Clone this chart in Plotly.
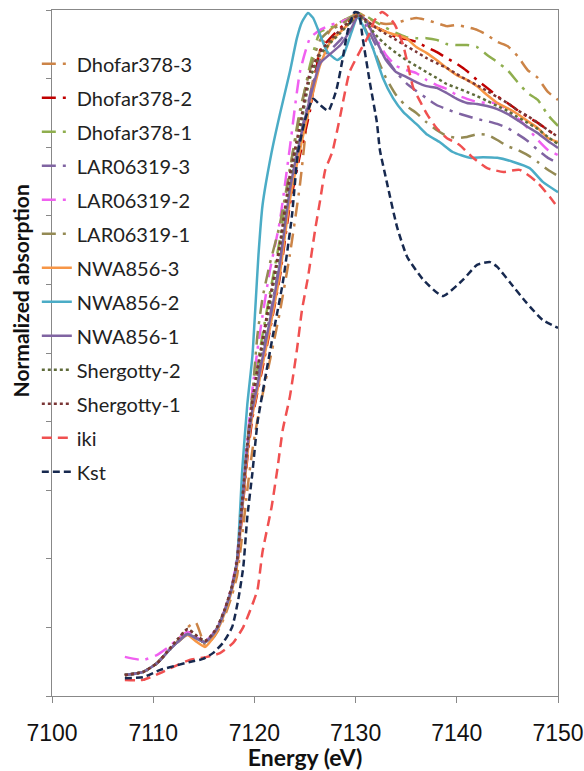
import plotly.graph_objects as go

# ---------------- data (energy in eV, normalized absorption) ----------------
E_BUNDLE = [7107.2, 7109.0, 7110.4, 7111.4, 7112.4, 7113.4, 7114.2, 7115.1, 7115.8, 7116.4,
            7117.1, 7117.8, 7118.3, 7118.8, 7119.3, 7119.8, 7120.3, 7120.8, 7121.5, 7122.5,
            7123.5, 7124.5, 7125.5, 7126.5, 7127.5, 7128.5, 7129.5, 7130.3, 7131.0, 7132.0,
            7133.0, 7134.0, 7135.0, 7136.0, 7137.0, 7138.0, 7139.0, 7140.0, 7141.0, 7142.0,
            7143.0, 7144.0, 7145.0, 7146.0, 7147.0, 7148.0, 7149.0, 7150.0]

PRE_COMMON = [0.061, 0.070, 0.096, 0.128, 0.157, 0.181, 0.169, 0.157, 0.175, 0.201, 0.251, 0.318]

dhofar378_3 = [0.061, 0.070, 0.096, 0.128, 0.160, 0.200, 0.215, 0.150, 0.165, 0.190, 0.235, 0.295,
               0.353, 0.469, 0.601, 0.717, 0.805, 0.878, 0.974, 1.117, 1.286, 1.490, 1.752, 1.883,
               1.942, 1.965, 1.980, 1.991, 1.980, 1.965, 1.959, 1.962, 1.971, 1.977, 1.971, 1.962,
               1.953, 1.956, 1.950, 1.942, 1.927, 1.907, 1.895, 1.866, 1.825, 1.802, 1.761, 1.738]
dhofar378_2 = PRE_COMMON + [
               0.382, 0.536, 0.694, 0.810, 0.886, 0.956, 1.061, 1.219, 1.431, 1.577, 1.708, 1.883,
               1.918, 1.948, 1.971, 1.985, 1.971, 1.950, 1.936, 1.921, 1.915, 1.907, 1.892, 1.878,
               1.860, 1.843, 1.822, 1.796, 1.773, 1.749, 1.729, 1.708, 1.688, 1.671, 1.650, 1.630]
dhofar378_1 = PRE_COMMON + [
               0.397, 0.571, 0.732, 0.863, 0.965, 1.052, 1.169, 1.329, 1.534, 1.694, 1.840, 1.936,
               1.948, 1.965, 1.980, 1.988, 1.983, 1.965, 1.948, 1.933, 1.921, 1.918, 1.918, 1.913,
               1.901, 1.898, 1.898, 1.892, 1.869, 1.848, 1.825, 1.790, 1.758, 1.738, 1.694, 1.662]
lar06319_3 = PRE_COMMON + [
               0.397, 0.563, 0.729, 0.848, 0.921, 1.003, 1.102, 1.265, 1.481, 1.627, 1.752, 1.854,
               1.883, 1.913, 1.950, 1.985, 1.956, 1.898, 1.860, 1.819, 1.787, 1.764, 1.743, 1.723,
               1.711, 1.700, 1.691, 1.682, 1.676, 1.668, 1.656, 1.638, 1.618, 1.592, 1.569, 1.554]
lar06319_2 = [0.114, 0.105, 0.120, 0.140, 0.165, 0.187, 0.172, 0.160, 0.178, 0.205, 0.255, 0.325,
              0.411, 0.586, 0.746, 0.892, 1.009, 1.108, 1.236, 1.382, 1.598, 1.819, 1.918, 1.942,
              1.956, 1.965, 1.977, 1.985, 1.965, 1.918, 1.869, 1.837, 1.825, 1.816, 1.796, 1.781,
              1.770, 1.752, 1.741, 1.732, 1.729, 1.729, 1.708, 1.685, 1.656, 1.621, 1.592, 1.577]
lar06319_1 = PRE_COMMON + [
               0.397, 0.577, 0.741, 0.878, 1.052, 1.160, 1.257, 1.373, 1.534, 1.708, 1.825, 1.913,
               1.942, 1.956, 1.977, 1.985, 1.942, 1.869, 1.802, 1.752, 1.720, 1.700, 1.673, 1.650,
               1.633, 1.627, 1.630, 1.638, 1.636, 1.621, 1.603, 1.592, 1.577, 1.557, 1.534, 1.516]
nwa856_3 = [0.061, 0.070, 0.096, 0.128, 0.157, 0.178, 0.160, 0.143, 0.165, 0.195, 0.245, 0.310,
            0.382, 0.542, 0.703, 0.819, 0.892, 0.965, 1.067, 1.227, 1.446, 1.592, 1.723, 1.840,
            1.907, 1.936, 1.965, 1.985, 1.971, 1.950, 1.936, 1.927, 1.918, 1.892, 1.875, 1.854,
            1.831, 1.810, 1.796, 1.778, 1.752, 1.729, 1.714, 1.697, 1.676, 1.656, 1.627, 1.615]
nwa856_1 = PRE_COMMON + [
            0.397, 0.557, 0.723, 0.834, 0.907, 0.985, 1.090, 1.257, 1.475, 1.621, 1.743, 1.845,
            1.872, 1.898, 1.942, 1.985, 1.971, 1.913, 1.854, 1.819, 1.805, 1.790, 1.778, 1.773,
            1.758, 1.741, 1.729, 1.726, 1.720, 1.711, 1.697, 1.679, 1.659, 1.641, 1.618, 1.598]
PRE_SHERGOTTY = [0.061, 0.070, 0.096, 0.130, 0.165, 0.195, 0.178, 0.160, 0.178, 0.205, 0.255, 0.322]
shergotty_2 = PRE_SHERGOTTY + [
            0.402, 0.571, 0.732, 0.857, 0.945, 1.023, 1.140, 1.300, 1.504, 1.650, 1.802, 1.869,
            1.904, 1.933, 1.965, 1.985, 1.965, 1.927, 1.898, 1.875, 1.854, 1.837, 1.819, 1.802,
            1.784, 1.773, 1.761, 1.749, 1.735, 1.720, 1.706, 1.688, 1.671, 1.653, 1.630, 1.609]
shergotty_1 = PRE_SHERGOTTY + [
            0.397, 0.571, 0.732, 0.863, 0.956, 1.038, 1.155, 1.315, 1.519, 1.665, 1.819, 1.878,
            1.913, 1.942, 1.971, 1.985, 1.971, 1.948, 1.930, 1.913, 1.895, 1.878, 1.860, 1.845,
            1.831, 1.813, 1.796, 1.781, 1.764, 1.746, 1.729, 1.708, 1.691, 1.671, 1.650, 1.630]

E_NWA856_2 = [7107.2, 7109.0, 7110.4, 7111.4, 7112.4, 7113.4, 7114.2, 7115.1, 7115.8, 7116.4,
              7117.1, 7117.8, 7118.3, 7118.8, 7119.3, 7119.8, 7120.1, 7120.4, 7120.8, 7121.7,
              7122.5, 7123.5, 7124.2, 7124.7, 7125.3, 7125.8, 7126.5, 7127.2, 7128.2, 7128.8,
              7129.6, 7130.2, 7130.7, 7131.7, 7132.7, 7133.7, 7134.7, 7136.1, 7137.1, 7138.3,
              7139.6, 7141.3, 7142.6, 7144.0, 7145.6, 7147.2, 7148.5, 7150.0]
nwa856_2 = PRE_COMMON + [
            0.400, 0.660, 0.850, 0.990, 1.135, 1.285, 1.430, 1.585, 1.694, 1.819, 1.918, 1.965,
            1.991, 1.977, 1.927, 1.878, 1.854, 1.869, 1.936, 1.980, 1.956, 1.889, 1.802, 1.743,
            1.703, 1.665, 1.636, 1.615, 1.586, 1.569, 1.571, 1.569, 1.557, 1.539, 1.499, 1.469]

E_IKI = [7107.2, 7109.0, 7110.7, 7112.0, 7113.6, 7115.3, 7116.6, 7117.9, 7118.9, 7119.6,
         7120.3, 7120.8, 7121.7, 7122.3, 7122.8, 7123.5, 7124.2, 7124.7, 7125.3, 7126.0,
         7126.5, 7127.0, 7127.7, 7128.5, 7129.4, 7130.4, 7131.2, 7131.9, 7132.6, 7133.3,
         7133.9, 7134.7, 7135.7, 7136.4, 7137.1, 7138.0, 7139.0, 7140.3, 7141.6, 7143.0,
         7144.6, 7146.2, 7147.9, 7149.2, 7150.0]
iki = [0.047, 0.047, 0.067, 0.085, 0.105, 0.114, 0.125, 0.155, 0.201, 0.251,
       0.309, 0.420, 0.551, 0.668, 0.776, 0.872, 1.009, 1.125, 1.222, 1.359,
       1.446, 1.534, 1.586, 1.694, 1.819, 1.878, 1.921, 1.971, 1.994, 1.980,
       1.956, 1.898, 1.773, 1.732, 1.694, 1.656, 1.627, 1.606, 1.569, 1.539,
       1.528, 1.534, 1.499, 1.455, 1.423]

E_KST = [7107.2, 7109.0, 7110.7, 7112.4, 7113.6, 7114.9, 7115.9, 7116.9, 7117.8, 7118.4,
         7118.9, 7119.3, 7119.8, 7120.3, 7120.8, 7121.8, 7122.8, 7123.7, 7124.3, 7125.0,
         7125.8, 7126.5, 7127.3, 7128.1, 7128.7, 7129.2, 7129.9, 7130.3, 7130.7, 7131.4,
         7132.1, 7132.4, 7133.1, 7134.1, 7135.1, 7136.7, 7138.6, 7140.6, 7142.0, 7143.3,
         7144.0, 7145.3, 7146.9, 7148.5, 7150.0]
kst = [0.052, 0.055, 0.076, 0.090, 0.099, 0.108, 0.125, 0.155, 0.201, 0.280,
       0.376, 0.522, 0.650, 0.796, 0.883, 1.047, 1.204, 1.397, 1.583, 1.679,
       1.741, 1.723, 1.706, 1.767, 1.854, 1.936, 1.994, 1.991, 1.918, 1.790,
       1.673, 1.592, 1.496, 1.367, 1.280, 1.213, 1.166, 1.213, 1.257, 1.265,
       1.251, 1.204, 1.146, 1.096, 1.073]

X_TICKS = [7100, 7110, 7120, 7130, 7140, 7150]

DASHDOT = "14px,7px,3px,7px"
series = [
    ("Dhofar378-3", E_BUNDLE, dhofar378_3, "#CC8447", DASHDOT),
    ("Dhofar378-2", E_BUNDLE, dhofar378_2, "#C00000", DASHDOT),
    ("Dhofar378-1", E_BUNDLE, dhofar378_1, "#8FAE4E", DASHDOT),
    ("LAR06319-3", E_BUNDLE, lar06319_3, "#8064A2", DASHDOT),
    ("LAR06319-2", E_BUNDLE, lar06319_2, "#F060F0", DASHDOT),
    ("LAR06319-1", E_BUNDLE, lar06319_1, "#948A54", DASHDOT),
    ("NWA856-3", E_BUNDLE, nwa856_3, "#F79646", "solid"),
    ("NWA856-2", E_NWA856_2, nwa856_2, "#4BACC6", "solid"),
    ("NWA856-1", E_BUNDLE, nwa856_1, "#8064A2", "solid"),
    ("Shergotty-2", E_BUNDLE, shergotty_2, "#5F6B3A", "dot"),
    ("Shergotty-1", E_BUNDLE, shergotty_1, "#7A3535", "dot"),
    ("iki", E_IKI, iki, "#F05050", "10px,6px"),
    ("Kst", E_KST, kst, "#17294F", "7px,4px"),
]

fig = go.Figure()
for name, xs, ys, color, dash in series:
    fig.add_trace(go.Scatter(
        x=xs, y=ys, name=name, mode="lines", legendgroup=name,
        line=dict(color=color, width=2.5, dash=dash, shape="spline", smoothing=0.5),
    ))

FONT = "Lato, 'Open Sans', sans-serif"
fig.update_layout(
    width=584, height=771,
    margin=dict(l=52, r=26, t=10, b=75, autoexpand=False),
    paper_bgcolor="white", plot_bgcolor="white",
    showlegend=True, hovermode=False,
    legend=dict(x=-0.03, xanchor="left", y=0.95, yanchor="top",
                font=dict(family=FONT, size=20, color="#222"),
                bgcolor="rgba(0,0,0,0)", traceorder="grouped", tracegroupgap=5,
                itemwidth=30),
    xaxis=dict(range=[7100, 7150], tickvals=X_TICKS, ticks="outside", ticklen=6,
               tickcolor="#888", showgrid=False, zeroline=False,
               showline=True, linecolor="#888", linewidth=1, mirror=True,
               ticklabelstandoff=10,
               tickfont=dict(family="Liberation Sans, Arial, sans-serif", size=23, color="#111"),
               title=dict(text="<b>Energy (eV)</b>", standoff=8,
                          font=dict(family=FONT, size=23, color="#111"))),
    yaxis=dict(range=[0, 2.0], dtick=0.2, ticks="outside", ticklen=5, tickcolor="#888",
               showticklabels=False, showgrid=False, zeroline=False,
               showline=True, linecolor="#888", linewidth=1, mirror=True),
    annotations=[dict(text="<b>Normalized absorption</b>", xref="paper", yref="paper",
                      x=-0.063, y=0.59, xanchor="center", yanchor="middle",
                      textangle=-90, showarrow=False,
                      font=dict(family=FONT, size=21, color="#111"))],
)

fig.write_html("out.html", config={"displayModeBar": False},
               post_script="document.body.style.margin='0';")
